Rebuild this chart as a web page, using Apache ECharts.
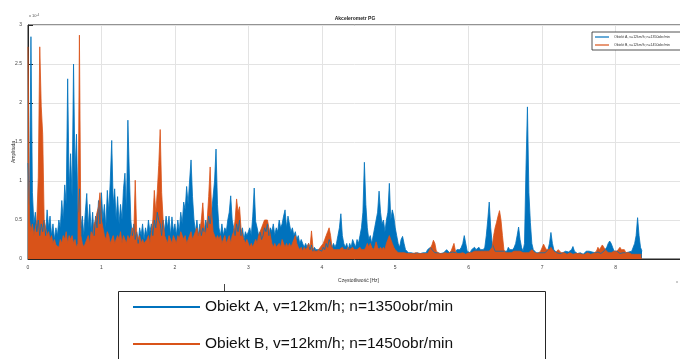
<!DOCTYPE html>
<html><head><meta charset="utf-8">
<script src="https://cdn.jsdelivr.net/npm/echarts@6/dist/echarts.min.js"></script>
<style>html,body{margin:0;padding:0;background:#fff}#c{width:680px;height:359px}</style>
</head><body><div id="c"></div>
<script>
// frequency grid: 0.00 .. 8.36 Hz, step 0.02 Hz
const freqStart = 0, freqStep = 0.02;
const xTicks = ['0','1','2','3','4','5','6','7','8','9'];
const yTicks = ['0','0.5','1','1.5','2','2.5','3'];
const seriesNames = ['Obiekt A, v=12km/h; n=1350obr/min','Obiekt B, v=12km/h; n=1450obr/min'];
// amplitude x 10^-4
const objA = [
1.23,0.7,2.85,0.85,0.45,0.6,0.35,0.5,0.3,0.45,
0.35,0.5,0.3,0.63,0.4,0.55,0.3,0.45,0.25,0.4,
0.3,0.5,0.4,0.75,0.5,0.95,0.7,2.31,0.9,1.35,
0.8,2.5,1.1,1.6,0.6,0.9,0.4,0.55,0.3,0.6,
0.84,0.4,0.7,0.35,0.6,0.3,0.55,0.4,0.75,0.45,
0.85,0.5,0.7,0.4,0.88,0.6,1.0,1.52,0.7,0.9,
0.5,0.8,0.45,0.7,0.5,0.9,1.1,0.6,1.78,1.09,
0.5,0.3,0.45,0.25,0.35,0.2,0.4,0.3,0.45,0.25,
0.4,0.3,0.5,0.35,0.45,0.3,0.5,0.4,0.6,0.5,
0.45,0.3,0.5,0.35,0.55,0.4,0.55,0.3,0.54,0.35,
0.45,0.3,0.5,0.35,0.6,0.45,0.73,0.63,0.93,0.7,
1.0,1.27,0.8,0.5,0.35,0.5,0.3,0.45,0.3,0.4,
0.35,0.5,0.4,0.55,0.45,0.6,0.8,1.0,1.41,0.7,
0.4,0.3,0.45,0.3,0.4,0.35,0.5,0.6,0.81,0.5,
0.4,0.3,0.45,0.35,0.5,0.3,0.4,0.25,0.35,0.3,
0.35,0.4,0.3,0.55,0.91,0.48,0.4,0.3,0.35,0.25,
0.3,0.4,0.35,0.45,0.3,0.4,0.35,0.45,0.3,0.4,
0.35,0.5,0.4,0.45,0.55,0.63,0.4,0.55,0.45,0.35,
0.4,0.3,0.35,0.25,0.3,0.2,0.25,0.2,0.15,0.2,
0.15,0.2,0.12,0.18,0.1,0.15,0.12,0.1,0.12,0.1,
0.1,0.15,0.12,0.2,0.15,0.25,0.2,0.15,0.2,0.15,
0.2,0.3,0.4,0.58,0.3,0.2,0.15,0.2,0.12,0.2,
0.15,0.25,0.2,0.15,0.25,0.2,0.3,0.4,0.6,1.24,
0.7,0.4,0.25,0.3,0.2,0.3,0.4,0.5,0.6,0.87,
0.6,0.45,0.5,0.35,0.5,0.6,0.97,0.5,0.63,0.55,
0.4,0.3,0.2,0.15,0.25,0.29,0.2,0.12,0.1,0.08,
0.1,0.08,0.1,0.07,0.09,0.08,0.1,0.07,0.09,0.08,
0.1,0.08,0.12,0.1,0.15,0.12,0.1,0.08,0.1,0.08,
0.1,0.07,0.09,0.08,0.1,0.12,0.1,0.08,0.1,0.09,
0.1,0.08,0.12,0.1,0.12,0.15,0.2,0.3,0.2,0.1,
0.1,0.08,0.12,0.1,0.15,0.12,0.1,0.15,0.12,0.1,
0.12,0.15,0.3,0.5,0.73,0.4,0.2,0.15,0.1,0.12,
0.1,0.12,0.1,0.08,0.1,0.12,0.1,0.15,0.12,0.1,
0.12,0.15,0.2,0.3,0.41,0.25,0.15,0.1,0.2,1.15,
1.95,0.85,0.47,0.2,0.12,0.1,0.08,0.1,0.08,0.1,
0.08,0.1,0.08,0.1,0.12,0.2,0.34,0.2,0.12,0.1,
0.08,0.1,0.07,0.09,0.08,0.07,0.1,0.08,0.09,0.1,
0.12,0.16,0.1,0.08,0.07,0.09,0.08,0.07,0.06,0.08,
0.1,0.08,0.1,0.12,0.09,0.1,0.08,0.07,0.09,0.08,
0.07,0.09,0.1,0.12,0.15,0.2,0.23,0.2,0.15,0.1,
0.08,0.1,0.08,0.07,0.09,0.08,0.1,0.08,0.07,0.09,
0.08,0.1,0.12,0.2,0.3,0.53,0.3,0.15,0.1
];
const objB = [
2.72,0.5,0.35,0.45,0.3,0.4,0.5,1.05,2.72,1.96,
1.6,0.5,0.4,0.3,0.35,0.25,0.3,0.2,0.25,0.18,
0.2,0.15,0.25,0.2,0.3,0.25,0.35,0.2,0.3,0.25,
0.3,0.2,0.25,0.15,0.2,2.87,0.3,0.2,0.15,0.2,
0.25,0.3,0.2,0.35,0.3,0.45,0.5,0.6,0.67,0.85,
0.5,0.4,0.3,0.25,0.35,0.3,0.2,0.25,0.3,0.2,
0.2,0.3,0.25,0.35,0.2,0.3,0.25,0.2,0.3,0.25,
0.3,0.4,0.3,1.01,0.35,0.25,0.3,0.2,0.25,0.2,
0.2,0.25,0.3,0.2,0.35,0.5,0.88,0.6,0.86,1.2,
1.66,0.85,0.5,0.3,0.25,0.2,0.3,0.25,0.2,0.3,
0.25,0.2,0.3,0.25,0.35,0.3,0.25,0.3,0.2,0.25,
0.3,0.35,0.25,0.3,0.35,0.4,0.3,0.35,0.5,0.72,
0.4,0.3,0.5,0.8,1.18,0.6,0.35,0.3,0.25,0.3,
0.25,0.3,0.2,0.25,0.3,0.2,0.25,0.3,0.2,0.3,
0.35,0.5,0.77,0.6,0.67,0.4,0.3,0.25,0.2,0.25,
0.2,0.15,0.2,0.15,0.2,0.25,0.2,0.3,0.35,0.4,
0.45,0.5,0.48,0.5,0.4,0.3,0.2,0.15,0.2,0.15,
0.15,0.2,0.15,0.25,0.2,0.15,0.2,0.15,0.2,0.15,
0.2,0.25,0.3,0.2,0.15,0.12,0.15,0.1,0.15,0.12,
0.15,0.2,0.15,0.36,0.15,0.1,0.12,0.1,0.12,0.15,
0.15,0.2,0.25,0.3,0.35,0.4,0.3,0.15,0.12,0.1,
0.12,0.1,0.12,0.1,0.15,0.12,0.1,0.12,0.15,0.12,
0.1,0.15,0.12,0.1,0.12,0.1,0.15,0.12,0.1,0.12,
0.15,0.2,0.15,0.2,0.15,0.12,0.15,0.22,0.15,0.12,
0.15,0.12,0.15,0.12,0.2,0.25,0.3,0.25,0.2,0.15,
0.12,0.1,0.08,0.1,0.08,0.07,0.08,0.06,0.07,0.06,
0.07,0.06,0.07,0.06,0.08,0.06,0.07,0.06,0.07,0.06,
0.07,0.08,0.07,0.1,0.12,0.18,0.24,0.2,0.1,0.08,
0.07,0.06,0.07,0.06,0.08,0.06,0.07,0.08,0.1,0.12,
0.2,0.1,0.07,0.06,0.07,0.06,0.08,0.07,0.06,0.07,
0.08,0.1,0.08,0.07,0.1,0.12,0.1,0.08,0.1,0.12,
0.1,0.08,0.1,0.12,0.1,0.12,0.15,0.3,0.4,0.47,
0.55,0.62,0.5,0.3,0.12,0.08,0.1,0.08,0.07,0.08,
0.08,0.1,0.12,0.1,0.08,0.1,0.12,0.08,0.1,0.08,
0.07,0.08,0.1,0.12,0.1,0.08,0.1,0.07,0.08,0.1,
0.12,0.19,0.15,0.12,0.1,0.12,0.15,0.12,0.1,0.08,
0.1,0.12,0.1,0.08,0.07,0.08,0.07,0.06,0.07,0.08,
0.07,0.06,0.08,0.07,0.06,0.07,0.08,0.06,0.07,0.06,
0.07,0.08,0.07,0.06,0.08,0.07,0.06,0.1,0.15,0.12,
0.15,0.18,0.15,0.12,0.1,0.08,0.07,0.08,0.07,0.1,
0.12,0.1,0.12,0.15,0.12,0.1,0.12,0.08,0.07,0.08,
0.07,0.06,0.07,0.06,0.07,0.06,0.07,0.06,0.05
];
const colA = '#0072BD', colB = '#D95319';
function pairs(arr){ return arr.map((v,i)=>[+(freqStart+i*freqStep).toFixed(2), v]); }

const chart = echarts.init(document.getElementById('c'), null, {renderer:'canvas'});
const lblFont = {fontFamily:'Liberation Sans, Arial, sans-serif'};
chart.setOption({
  animation:false,
  backgroundColor:'#fff',
  title:{text:'Akcelerometr PG', left:350, top:11, textAlign:'center',
    textStyle:{fontSize:5, fontWeight:'bold', color:'#222', fontFamily:'Liberation Sans, Arial'}},
  grid:{left:28, top:25, width:661, height:234, outerBoundsMode:'none', containLabel:false,
    show:true, borderColor:'#262626', borderWidth:1, backgroundColor:'#fff'},
  xAxis:{type:'value', min:0, max:9, interval:1,
    name:'Częstotliwość [Hz]', nameLocation:'middle', nameGap:19,
    nameTextStyle:Object.assign({fontSize:5, color:'#333'}, lblFont),
    axisLine:{show:true, lineStyle:{color:'#262626', width:1}},
    axisTick:{show:true, inside:true, length:4, lineStyle:{color:'#262626'}},
    axisLabel:Object.assign({fontSize:5, color:'#444', margin:6, formatter:(v)=>xTicks[Math.round(v)]}, lblFont),
    splitLine:{show:true, lineStyle:{color:'#e3e3e3', width:1}}},
  yAxis:{type:'value', min:0, max:3, interval:0.5,
    axisLine:{show:true, lineStyle:{color:'#262626', width:1}},
    axisTick:{show:true, inside:true, length:5, lineStyle:{color:'#262626'}},
    axisLabel:Object.assign({fontSize:5, color:'#444', margin:6, formatter:(v)=>yTicks[Math.round(v*2)]}, lblFont),
    splitLine:{show:true, lineStyle:{color:'#e3e3e3', width:1}}},
  legend:[
    {data:seriesNames, left:592, top:32, orient:'vertical', icon:'rect', itemWidth:14, itemHeight:1.2,
     itemGap:4, padding:[3,20,3,3], backgroundColor:'#fff', borderColor:'#262626', borderWidth:0.8,
     textStyle:Object.assign({fontSize:3.5, color:'#333'}, lblFont)},
    {data:seriesNames, left:133, top:297, orient:'vertical', icon:'rect', itemWidth:67, itemHeight:2,
     itemGap:17, padding:0, z:10,
     textStyle:Object.assign({fontSize:15.5, color:'#111', lineHeight:20}, lblFont)}
  ],
  graphic:[
    {type:'rect', z:1, shape:{x:118.5, y:291.5, width:427, height:90}, style:{fill:'#fff', stroke:'#262626', lineWidth:1}},
    {type:'text', x:14, y:152, rotation:Math.PI/2, style:{text:'Amplituda', fontSize:5, fill:'#333', align:'center', verticalAlign:'middle', fontFamily:'Liberation Sans, Arial'}},
    {type:'text', left:29, top:14, style:{rich:{a:{fontSize:4, fill:'#555'}, b:{fontSize:3, fill:'#555', verticalAlign:'top'}}, text:'{a|x 10}{b|-4}'}},
    {type:'text', left:676, top:280, style:{text:'x', fontSize:4, fill:'#777'}},
    {type:'line', shape:{x1:224.5, y1:284, x2:224.5, y2:291}, style:{stroke:'#444', lineWidth:1}}
  ],
  series:[
    {name:seriesNames[0], type:'line', data:pairs(objA), symbol:'none', sampling:null,
     lineStyle:{color:colA, width:0.8}, itemStyle:{color:colA}, areaStyle:{color:colA, opacity:1}},
    {name:seriesNames[1], type:'line', data:pairs(objB), symbol:'none',
     lineStyle:{color:colB, width:0.8}, itemStyle:{color:colB}, areaStyle:{color:colB, opacity:1}}
  ]
});
</script></body></html>
